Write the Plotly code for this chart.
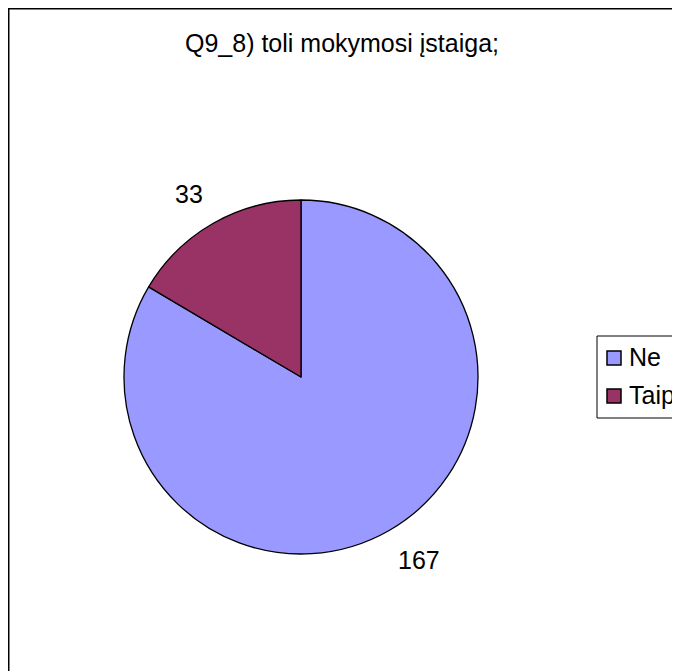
import math
import plotly.graph_objects as go

title_text = "Q9_8) toli mokymosi įstaiga;"
labels = ["Ne", "Taip"]
values = [167, 33]
colors = ["#9999FF", "#993366"]

OFF = 8  # the page body margin shifts the figure by 8px
W, H = 680 - OFF, 671 - OFF
FS = 25
cx_px, cy_px, r_px = 301 - OFF, 377 - OFF, 177


def px(x):
    return x / W


def py(y):
    return 1 - y / H


fig = go.Figure()
fig.add_trace(go.Pie(
    labels=labels, values=values, sort=False, direction="clockwise", rotation=0,
    marker=dict(colors=colors, line=dict(color="black", width=1.3)),
    textinfo="none", hoverinfo="label+value", showlegend=False,
    domain=dict(x=[px(cx_px - r_px), px(cx_px + r_px)],
                y=[py(cy_px + r_px), py(cy_px - r_px)]),
))

annotations = []
shapes = []

# value labels outside each slice, placed along the slice mid-angle
total = sum(values)
cum = 0
d = r_px * 1.13
for v in values:
    mid = (cum + v / 2) / total * 2 * math.pi
    cum += v
    s, c = math.sin(mid), math.cos(mid)
    half_w = len(str(v)) * 0.278 * FS * 0.92
    half_h = 0.716 * FS / 2
    lx = cx_px + d * s + math.copysign(half_w, s)
    ly = cy_px - d * c + math.copysign(half_h, -c)
    annotations.append(dict(
        x=px(lx), y=py(ly), xref="paper", yref="paper", text=str(v),
        showarrow=False, font=dict(size=FS, color="black"),
        xanchor="center", yanchor="middle"))

# legend (box, swatches, labels)
leg_left, leg_top, row0, row_gap, sw = 597 - OFF, 336 - OFF, 358 - OFF, 38, 14
leg_bottom = row0 + row_gap * (len(labels) - 1) + 22
shapes.append(dict(type="rect", xref="paper", yref="paper",
                   x0=px(leg_left), x1=1.2, y0=py(leg_bottom), y1=py(leg_top),
                   line=dict(color="black", width=1), fillcolor="white"))
for i, (lab, col) in enumerate(zip(labels, colors)):
    yc = row0 + i * row_gap
    shapes.append(dict(type="rect", xref="paper", yref="paper",
                       x0=px(leg_left + 10), x1=px(leg_left + 10 + sw),
                       y0=py(yc + sw / 2), y1=py(yc - sw / 2),
                       line=dict(color="black", width=1.5), fillcolor=col))
    annotations.append(dict(
        x=px(leg_left + 30), y=py(yc - 1), xref="paper", yref="paper", text=lab,
        showarrow=False, font=dict(size=FS, color="black"),
        xanchor="left", yanchor="middle"))

# chart area border (extends beyond the right and bottom edges)
shapes.append(dict(type="rect", xref="paper", yref="paper",
                   x0=px(0.75), x1=1.2, y0=-0.2, y1=py(0.75),
                   line=dict(color="black", width=1.5), layer="below"))

fig.update_layout(
    width=W, height=H,
    margin=dict(l=0, r=0, t=0, b=0),
    paper_bgcolor="white", plot_bgcolor="white",
    font=dict(family="Liberation Sans, Arial, sans-serif", size=FS, color="black"),
    title=dict(text=title_text, x=px(342 - OFF), xanchor="center", y=py(43 - OFF),
               yanchor="middle", font=dict(size=FS)),
    showlegend=False,
    annotations=annotations,
    shapes=shapes,
)

fig.write_html("out.html")
